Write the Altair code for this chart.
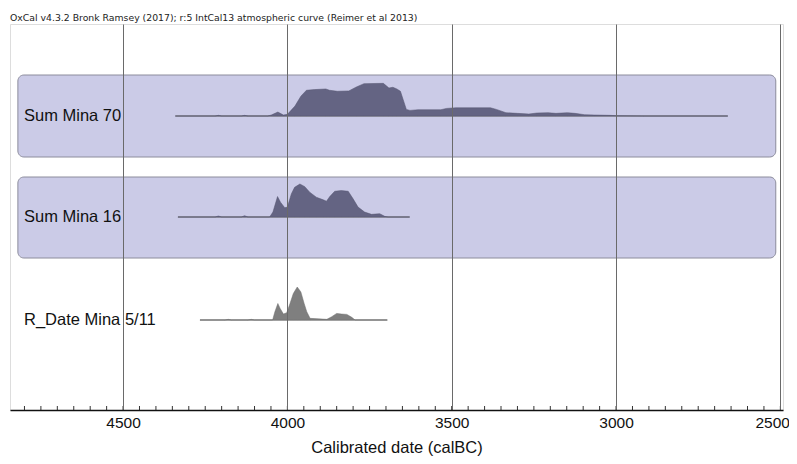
import altair as alt
import pandas as pd

# ---------------- data ----------------
HEADER = "OxCal v4.3.2 Bronk Ramsey (2017); r:5 IntCal13 atmospheric curve (Reimer et al 2013)"
AXIS_TITLE = "Calibrated date (calBC)"
TICK_YEARS = [4500, 4000, 3500, 3000, 2500]
MINOR_YEARS = list(range(4800, 2499, -50))

LABELS = ["Sum Mina 70", "Sum Mina 16", "R_Date Mina 5/11"]
KINDS = ["sum", "sum", "date"]
RANGE_START = [4341, 4333, 4266]
RANGE_END = [2660, 3628, 3696]

SUM70_YEARS = [4341, 4220, 4210, 4200, 4140, 4130, 4120, 4060, 4049, 4029, 4012, 4000, 3977, 3959,
               3942, 3918, 3883, 3872, 3848, 3813, 3790, 3767, 3708, 3691, 3679, 3667, 3656,
               3638, 3627, 3603, 3533, 3516, 3487, 3382, 3364, 3335, 3300, 3265, 3241, 3207,
               3183, 3148, 3125, 3096, 3066, 3020, 3000, 2915, 2660]
SUM70_PROB = [0.0, 0.0, 0.02, 0.0, 0.0, 0.02, 0.0, 0.0, 0.03, 0.12, 0.03, 0.05, 0.3, 0.6,
              0.78, 0.8, 0.82, 0.78, 0.75, 0.76, 0.88, 0.98, 0.99, 0.85, 0.87, 0.82, 0.75,
              0.2, 0.17, 0.19, 0.19, 0.23, 0.25, 0.25, 0.2, 0.1, 0.08, 0.06, 0.09, 0.1,
              0.08, 0.1, 0.08, 0.04, 0.03, 0.02, 0.01, 0.0, 0.0]

SUM16_YEARS = [4333, 4220, 4210, 4200, 4140, 4130, 4120, 4054, 4044, 4030, 4021, 4008, 4000, 3988,
               3978, 3962, 3947, 3932, 3912, 3891, 3881, 3871, 3856, 3836, 3815, 3800, 3785,
               3765, 3744, 3719, 3704, 3694, 3628]
SUM16_PROB = [0.0, 0.0, 0.03, 0.0, 0.0, 0.04, 0.0, 0.0, 0.15, 0.62, 0.45, 0.28, 0.3, 0.7,
              0.9, 1.0, 0.92, 0.75, 0.6, 0.52, 0.48, 0.62, 0.78, 0.8, 0.78, 0.55, 0.3,
              0.15, 0.08, 0.1, 0.02, 0.0, 0.0]

DATE_YEARS = [4266, 4190, 4180, 4170, 4120, 4110, 4100, 4045, 4038, 4029, 4022, 4012, 4002, 3992,
              3982, 3970, 3959, 3949, 3941, 3931, 3880, 3865, 3850, 3835, 3819, 3804, 3794, 3696]
DATE_PROB = [0.0, 0.0, 0.02, 0.0, 0.0, 0.02, 0.0, 0.0, 0.25, 0.5, 0.35, 0.18, 0.22, 0.5,
             0.8, 1.0, 0.85, 0.5, 0.25, 0.05, 0.02, 0.1, 0.2, 0.18, 0.17, 0.08, 0.0, 0.0]

# ---------------- layout (pixels, bottom-up, plot height = 386) ----------------
W, H = 773, 386
X_DOMAIN = [4844, 2492]
ROW_BASE = [294, 193, 90]
PEAK_PX = 33
BOX_X = [4820, 2514]
BOX_Y = [(253, 335), (152, 233)]

series = [(SUM70_YEARS, SUM70_PROB), (SUM16_YEARS, SUM16_PROB), (DATE_YEARS, DATE_PROB)]
rows = []
for i, (ys, ps) in enumerate(series):
    for yr, p in zip(ys, ps):
        rows.append({"label": LABELS[i], "kind": KINDS[i], "year": yr,
                     "top": ROW_BASE[i] + p * PEAK_PX, "base": ROW_BASE[i]})
dist = pd.DataFrame(rows)

lines = pd.DataFrame({"label": LABELS, "kind": KINDS, "x0": RANGE_START, "x1": RANGE_END,
                      "base": ROW_BASE})
boxes = pd.DataFrame({"label": LABELS[:2], "x0": [BOX_X[0]] * 2, "x1": [BOX_X[1]] * 2,
                      "y0": [b[0] for b in BOX_Y], "y1": [b[1] for b in BOX_Y]})
minor = pd.DataFrame({"year": MINOR_YEARS})
FONT = "Liberation Sans"

xscale = alt.Scale(domain=X_DOMAIN, nice=False, zero=False)
yscale = alt.Scale(domain=[0, H], nice=False, zero=False)

xaxis = alt.Axis(values=TICK_YEARS, grid=True, gridColor="#6a6a6a", gridWidth=1,
                 ticks=False, domain=True, domainColor="#111", domainWidth=1.5,
                 labelFontSize=15.5, labelFont=FONT, labelColor="#111", labelPadding=5,
                 labelFlush=3, labelFlushOffset=9,
                 title=AXIS_TITLE, titleFont=FONT, titleFontSize=16.5,
                 titleFontWeight="normal", titleColor="#111", titlePadding=9,
                 format="d", zindex=1)

box_layer = alt.Chart(boxes).mark_rect(cornerRadius=6, fill="#cbcbe7", stroke="#8c8c9c",
                                       strokeWidth=1).encode(
    x=alt.X("x0:Q", scale=xscale, axis=xaxis),
    x2="x1:Q",
    y=alt.Y("y0:Q", scale=yscale, axis=None),
    y2="y1:Q",
)

line_layer = alt.Chart(lines).mark_rule(color="#666", strokeWidth=1).encode(
    x=alt.X("x0:Q", scale=xscale), x2="x1:Q",
    y=alt.Y("base:Q", scale=yscale),
)

area_layer = alt.Chart(dist).mark_area(interpolate="linear", strokeWidth=0.5).encode(
    x=alt.X("year:Q", scale=xscale),
    y=alt.Y("top:Q", scale=yscale),
    y2="base:Q",
    detail="label:N",
    color=alt.Color("kind:N", scale=alt.Scale(domain=["sum", "date"],
                                              range=["#646483", "#7f7f7f"]), legend=None),
    stroke=alt.Stroke("kind:N", scale=alt.Scale(domain=["sum", "date"],
                                                range=["#55556f", "#6f6f6f"]), legend=None),
)

text_layer = alt.Chart(lines).mark_text(align="left", baseline="middle", fontSize=16.5,
                                        font=FONT, color="#111").encode(
    x=alt.value(14),
    y=alt.Y("base:Q", scale=yscale),
    text="label:N",
)

minor_layer = alt.Chart(minor).mark_rule(color="#333", strokeWidth=1).encode(
    x=alt.X("year:Q", scale=xscale),
    y=alt.value(H - 4),
    y2=alt.value(H),
)

header = alt.Chart(pd.DataFrame({"t": [HEADER]})).mark_text(
    align="left", baseline="alphabetic", fontSize=9.3, font="DejaVu Sans", color="#222").encode(
    x=alt.value(0), y=alt.value(-3), text="t:N")

chart = alt.layer(box_layer, line_layer, area_layer, text_layer, minor_layer,
                  header).properties(
    width=W, height=H,
    autosize=alt.AutoSizeParams(type="none"),
    padding={"left": 2, "top": 16, "right": 6, "bottom": 46},
).configure_view(stroke="#444", strokeWidth=1.2).configure(background="white")

chart.save("out.html", embed_options={"renderer": "svg", "actions": False})
